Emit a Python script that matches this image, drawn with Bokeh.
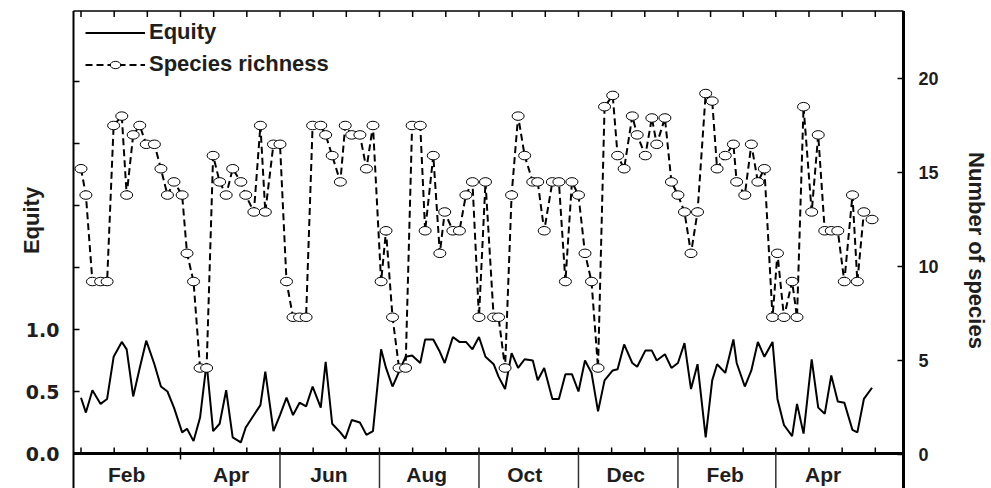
import math
from bokeh.plotting import figure
from bokeh.models import Range1d, Legend, LegendItem
from bokeh.core.properties import value
from bokeh.embed import file_html
from bokeh.resources import INLINE

# ---------------- data ----------------
# sampling day, counted from 1 January of the first year
sample_day = [29, 32, 36, 41, 45, 49, 54, 57, 61, 65, 69, 74, 78, 82, 86, 91, 94, 98, 102, 106,
              110, 114, 118, 122, 127, 130, 135, 139, 142, 147, 151, 155, 159, 163, 167, 171, 176, 179, 183, 188,
              191, 195, 200, 204, 208, 213, 216, 220, 224, 228, 232, 237, 240, 245, 249, 252, 257, 261, 265, 269,
              273, 277, 282, 285, 289, 293, 297, 301, 306, 309, 313, 318, 322, 326, 330, 334, 338, 342, 346, 350,
              355, 358, 362, 367, 370, 375, 379, 382, 387, 391, 395, 399, 403, 407, 412, 416, 419, 424, 429, 431,
              436, 440, 444, 448, 453, 456, 460, 465, 468, 472, 477, 481, 485, 489, 493, 497, 502, 505, 509, 514]

equity = [0.45, 0.33, 0.51, 0.40, 0.44, 0.78, 0.90, 0.84, 0.46, 0.69, 0.91, 0.72, 0.54, 0.50, 0.37, 0.17, 0.20, 0.10, 0.29, 0.73,
          0.18, 0.24, 0.51, 0.13, 0.09, 0.21, 0.31, 0.39, 0.66, 0.18, 0.31, 0.45, 0.31, 0.41, 0.38, 0.54, 0.37, 0.74, 0.24, 0.17,
          0.12, 0.27, 0.25, 0.15, 0.18, 0.84, 0.69, 0.54, 0.66, 0.78, 0.79, 0.73, 0.92, 0.92, 0.82, 0.73, 0.94, 0.90, 0.90, 0.84,
          0.94, 0.78, 0.72, 0.62, 0.52, 0.81, 0.69, 0.76, 0.75, 0.59, 0.69, 0.44, 0.44, 0.64, 0.64, 0.50, 0.75, 0.65, 0.34, 0.59,
          0.67, 0.68, 0.88, 0.73, 0.70, 0.83, 0.83, 0.75, 0.80, 0.69, 0.73, 0.89, 0.52, 0.72, 0.13, 0.59, 0.72, 0.65, 0.92, 0.73,
          0.54, 0.67, 0.90, 0.78, 0.90, 0.44, 0.23, 0.14, 0.40, 0.16, 0.76, 0.37, 0.32, 0.63, 0.42, 0.41, 0.19, 0.17, 0.44, 0.53]

species = [15.2, 13.8, 9.2, 9.2, 9.2, 17.5, 18.0, 13.8, 17.0, 17.5, 16.5, 16.5, 15.2, 13.8, 14.5, 13.8, 10.7, 9.2, 4.6, 4.6,
           15.9, 14.5, 13.8, 15.2, 14.5, 13.8, 12.9, 17.5, 12.9, 16.5, 16.5, 9.2, 7.3, 7.3, 7.3, 17.5, 17.5, 17.0, 15.9, 14.5,
           17.5, 17.0, 17.0, 15.2, 17.5, 9.2, 11.9, 7.3, 4.6, 4.6, 17.5, 17.5, 11.9, 15.9, 10.7, 12.9, 11.9, 11.9, 13.8, 14.5,
           7.3, 14.5, 7.3, 7.3, 4.6, 13.8, 18.0, 15.9, 14.5, 14.5, 11.9, 14.5, 14.5, 9.2, 14.5, 13.8, 10.7, 9.2, 4.6, 18.5,
           19.1, 15.9, 15.2, 18.0, 17.0, 15.9, 17.9, 16.5, 17.9, 14.5, 13.8, 12.9, 10.7, 12.9, 19.2, 18.8, 15.2, 15.9, 16.5, 14.5,
           13.8, 16.5, 14.5, 15.2, 7.3, 10.7, 7.3, 9.2, 7.3, 18.5, 12.9, 17.0, 11.9, 11.9, 11.9, 9.2, 13.8, 9.2, 12.9, 12.5]

month_labels = ["Feb", "Apr", "Jun", "Aug", "Oct", "Dec", "Feb", "Apr"]
month_label_day = [57, 121, 181, 241, 301, 363, 424, 484]
band_edges = [29, 90, 151, 212, 273, 334, 395, 455, 516]   # two-month bands on the time axis

equity_ticks = [0, 0.5, 1.0, 1.5, 2.0, 2.5, 3.0]
equity_tick_labels = ["0.0", "0.5", "1.0"]          # only the lower three ticks are labelled
species_ticks = [0, 5, 10, 15, 20]
species_tick_labels = ["0", "5", "10", "15", "20"]

# ---------------- layout: the frame fills the page, axes are drawn in it ----------------
W, H = 991, 488
FONT = "Liberation Sans"
TXT = "#1e1e1e"


def day_at(px):          # page x -> day
    return 90 + (px - 180) / 1.631


def eq_at(py):           # page y -> equity value
    return (453 - py) / 124.0


def sp_at(py):           # page y -> species value
    return (454 - py) / 18.8


p = figure(width=W, height=H, x_range=Range1d(day_at(0), day_at(W)), y_range=Range1d(eq_at(H), eq_at(0)),
           x_axis_location=None, y_axis_location=None, output_backend="svg", toolbar_location=None,
           min_border=0, min_border_left=0, min_border_right=0, min_border_top=0, min_border_bottom=0)
p.extra_y_ranges = {"sp": Range1d(sp_at(H), sp_at(0))}
p.xgrid.visible = False
p.ygrid.visible = False
p.outline_line_color = None
p.background_fill_color = "white"
p.border_fill_color = "white"

L, R = day_at(73), day_at(903)          # plot box
TOP, BOT, EDGE = eq_at(10.5), 0.0, eq_at(H)
dx6 = 6 * 1.0 / 1.631                  # 6 px in days
dy6 = 6 / 124.0                        # 6 px in equity units

# box lines
p.segment(x0=[L], y0=[TOP], x1=[R], y1=[TOP], line_color="black", line_width=1.5)
p.segment(x0=[L], y0=[TOP], x1=[L], y1=[EDGE], line_color="black", line_width=2)
p.segment(x0=[R], y0=[TOP], x1=[R], y1=[EDGE], line_color="black", line_width=3)
p.segment(x0=[L], y0=[BOT], x1=[R], y1=[BOT], line_color="black", line_width=3)

# time ticks (inward, top and bottom), band separators and month labels
tick_days = []
for a, b in zip(band_edges[:-1], band_edges[1:]):
    for k in range(3):
        tick_days.append(a + (b - a) * k / 3.0)
tick_days.append(band_edges[-1])
n = len(tick_days)
p.segment(x0=tick_days, y0=[BOT] * n, x1=tick_days, y1=[BOT + dy6] * n, line_color="black", line_width=1.5)
p.segment(x0=tick_days, y0=[TOP] * n, x1=tick_days, y1=[TOP - dy6] * n, line_color="black", line_width=1.5)
p.segment(x0=band_edges[1:2], y0=[BOT], x1=band_edges[1:2], y1=[BOT - dy6], line_color="black", line_width=1.5)
sep = band_edges[2:-1]
p.segment(x0=sep, y0=[BOT] * len(sep), x1=sep, y1=[EDGE] * len(sep), line_color="#333333", line_width=1.5)
p.text(x=month_label_day, y=[EDGE * 0.6] * len(month_label_day), text=month_labels,
       text_font=value(FONT), text_font_style="bold", text_font_size="21px", text_color=TXT,
       text_align="center", text_baseline="middle")

# left (equity) axis ticks and labels
ne = len(equity_ticks)
p.segment(x0=[L] * ne, y0=equity_ticks, x1=[L + dx6] * ne, y1=equity_ticks, line_color="black", line_width=1.5)
p.text(x=[day_at(59)] * len(equity_tick_labels), y=equity_ticks[:len(equity_tick_labels)], text=equity_tick_labels,
       text_font=value("DejaVu Sans"), text_font_style="bold", text_font_size="19px", text_color=TXT,
       text_align="right", text_baseline="middle")
p.text(x=[day_at(31)], y=[eq_at(220)], text=["Equity"], angle=math.pi / 2,
       text_font=value(FONT), text_font_style="bold", text_font_size="22px", text_color=TXT,
       text_align="center", text_baseline="middle")

# right (species) axis ticks and labels
ns = len(species_ticks)
p.segment(x0=[R] * ns, y0=species_ticks, x1=[R - dx6] * ns, y1=species_ticks, y_range_name="sp",
          line_color="black", line_width=1.5)
p.text(x=[day_at(918)] * ns, y=species_ticks, text=species_tick_labels, y_range_name="sp",
       text_font=value(FONT), text_font_style="bold", text_font_size="18px", text_color=TXT,
       text_align="left", text_baseline="middle")
p.text(x=[day_at(976)], y=[eq_at(250)], text=["Number of species"], angle=-math.pi / 2,
       text_font=value(FONT), text_font_style="bold", text_font_size="22px", text_color=TXT,
       text_align="center", text_baseline="middle")

# series
eq_r = p.line(sample_day, equity, line_color="black", line_width=2)
sp_line = p.line(sample_day, species, y_range_name="sp", line_color="black", line_width=2,
                 line_dash="7 4")
sp_pts = p.ellipse(sample_day, species, width=12, height=8.5, width_units="screen", height_units="screen",
                   y_range_name="sp", fill_color="white", line_color="black", line_width=1)

legend = Legend(items=[LegendItem(label="Equity", renderers=[eq_r]),
                       LegendItem(label="Species richness", renderers=[sp_line, sp_pts])],
                location=(85, 411), padding=0, margin=0, spacing=6,
                glyph_width=60, glyph_height=13, label_height=22, label_standoff=4,
                label_text_font=FONT, label_text_font_style="bold", label_text_font_size="22px",
                label_text_color=TXT, background_fill_alpha=0, border_line_alpha=0)
p.add_layout(legend)

open("out.html", "w").write(file_html(p, INLINE))
